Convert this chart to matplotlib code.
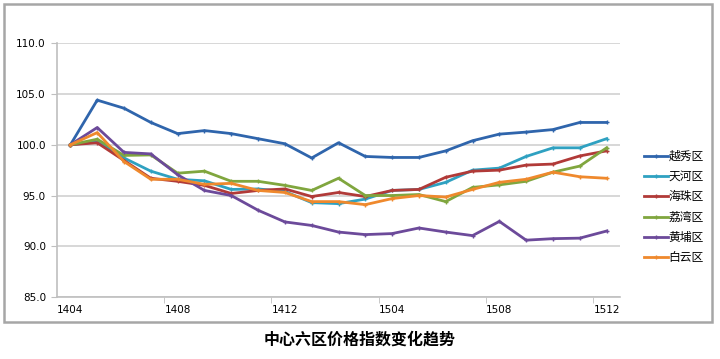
import matplotlib
matplotlib.use("Agg")
import matplotlib.pyplot as plt
from matplotlib.patches import Rectangle

plt.rcParams['font.family'] = ['Noto Sans CJK SC', 'DejaVu Sans']

# months 1404 .. 1512
months = ['1404', '1405', '1406', '1407', '1408', '1409', '1410', '1411', '1412',
          '1501', '1502', '1503', '1504', '1505', '1506', '1507', '1508', '1509',
          '1510', '1511', '1512']

yuexiu = [100.0, 104.4, 103.6, 102.2, 101.1, 101.4, 101.1, 100.6, 100.1, 98.7, 100.2,
          98.85, 98.75, 98.75, 99.4, 100.4, 101.05, 101.25, 101.5, 102.2, 102.2]
tianhe = [100.0, 100.3, 98.7, 97.4, 96.6, 96.45, 95.6, 95.65, 95.4, 94.3, 94.2,
          94.65, 95.5, 95.6, 96.3, 97.5, 97.7, 98.85, 99.7, 99.7, 100.6]
haizhu = [100.0, 100.2, 98.45, 96.7, 96.4, 96.0, 95.2, 95.5, 95.65, 94.9, 95.3,
          94.9, 95.5, 95.6, 96.8, 97.4, 97.5, 98.0, 98.1, 98.9, 99.4]
liwan = [100.0, 100.55, 98.95, 99.0, 97.2, 97.4, 96.4, 96.4, 96.0, 95.5, 96.7,
         95.0, 95.0, 95.1, 94.4, 95.8, 96.05, 96.4, 97.3, 97.9, 99.7]
huangpu = [100.0, 101.7, 99.25, 99.1, 97.05, 95.5, 95.0, 93.55, 92.4, 92.05, 91.4,
           91.15, 91.25, 91.8, 91.4, 91.05, 92.45, 90.6, 90.75, 90.8, 91.5]
baiyun = [100.0, 101.2, 98.35, 96.6, 96.6, 96.1, 96.2, 95.5, 95.3, 94.4, 94.4,
          94.1, 94.7, 95.0, 94.85, 95.6, 96.3, 96.6, 97.3, 96.85, 96.7]

names = ['越秀区', '天河区', '海珠区', '荔湾区', '黄埔区', '白云区']
colors = ['#2F65AC', '#2FA1C1', '#B13A38', '#80A63E', '#6C4A9A', '#EF892D']
series = [yuexiu, tianhe, haizhu, liwan, huangpu, baiyun]

fig = plt.figure(figsize=(7.2, 3.59), dpi=100)
ax = fig.add_axes([57/720, 1-297/359, (620-57)/720, (297-43.3)/359])

x = list(range(len(months)))
for name, c, s in zip(names, colors, series):
    ax.plot(x, s, color=c, lw=2, marker='+', ms=3.5, mew=1.0, label=name)

ax.set_xlim(-0.5, len(months) - 0.5)
ax.set_ylim(85, 110)
ax.set_yticks([85, 90, 95, 100, 105, 110])
ax.set_yticklabels(['%.1f' % v for v in [85, 90, 95, 100, 105, 110]], fontsize=7.5,
                   family='DejaVu Sans')
ax.set_xticks(x[::4])
ax.set_xticklabels(months[::4], fontsize=7.5, family='DejaVu Sans')
ax.set_xticks([i + 3.5 for i in range(0, 20, 4)], minor=True)
ax.tick_params(axis='x', which='major', length=0, pad=6)
ax.tick_params(axis='x', which='minor', length=4, color='#BFBFBF', direction='out')
ax.tick_params(axis='y', length=4, color='#BFBFBF', pad=4)

ax.grid(axis='y', color='#D4D4D4', lw=1.3)
ax.set_axisbelow(True)
for sp in ['top', 'right']:
    ax.spines[sp].set_visible(False)
ax.spines['left'].set_color('#BFBFBF')
ax.spines['bottom'].set_color('#BFBFBF')
ax.spines['left'].set_linewidth(1.2)
ax.spines['bottom'].set_linewidth(1.2)

fig.legend(loc='center left', bbox_to_anchor=(638/720, 1-207/359), frameon=False,
           fontsize=8.5, handlelength=2.0, handletextpad=0.1, labelspacing=0.62,
           borderpad=0)

fig.patches.append(Rectangle((4/720, 1-322/359), (712-4)/720, (322-4)/359,
                             transform=fig.transFigure, fill=False,
                             edgecolor='#A6A6A6', lw=1.8))

fig.text(0.5, 1-340/359, '中心六区价格指数变化趋势', ha='center', va='center',
         fontsize=11.5, fontweight='bold')

fig.savefig('out.png', dpi=100)
